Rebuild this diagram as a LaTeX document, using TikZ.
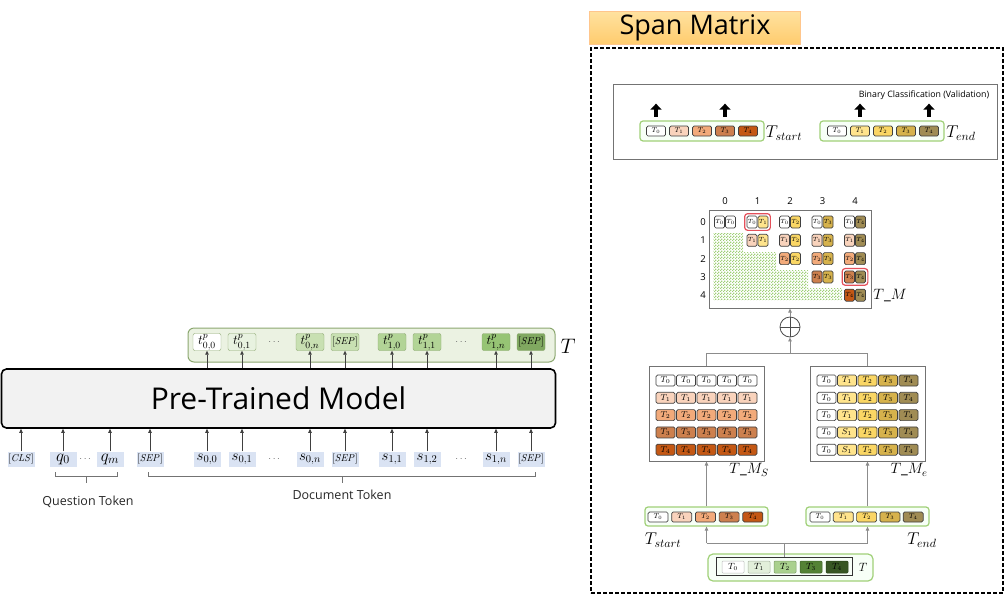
\documentclass[tikz,border=0pt]{standalone}
\usepackage{fix-cm}
\usepackage{amsmath}
\usepackage{amssymb}
\usepackage[no-math]{fontspec}
\setmainfont{Open Sans}
\usepackage{xcolor}
\usepackage{tikz}
\usetikzlibrary{arrows, arrows.meta, positioning, shapes, fit, patterns}

\definecolor{inblue}{RGB}{218,227,243}
\definecolor{barfill}{RGB}{235,242,226}
\definecolor{barline}{RGB}{140,168,112}
\definecolor{limeline}{RGB}{160,208,120}
\definecolor{hlred}{RGB}{228,80,90}
\definecolor{og0}{RGB}{255,255,255}
\definecolor{og1}{RGB}{232,242,224}
\definecolor{og2}{RGB}{200,224,178}
\definecolor{og3}{RGB}{178,212,150}
\definecolor{og4}{RGB}{150,196,116}
\definecolor{og5}{RGB}{128,168,96}
\definecolor{sc0}{RGB}{255,255,255}
\definecolor{sc1}{RGB}{249,211,188}
\definecolor{sc2}{RGB}{242,170,122}
\definecolor{sc3}{RGB}{205,128,78}
\definecolor{sc4}{RGB}{196,88,20}
\definecolor{ec0}{RGB}{255,255,255}
\definecolor{ec1}{RGB}{255,228,140}
\definecolor{ec2}{RGB}{250,214,100}
\definecolor{ec3}{RGB}{214,178,76}
\definecolor{ec4}{RGB}{160,140,84}
\definecolor{tc0}{RGB}{255,255,255}
\definecolor{tc1}{RGB}{226,239,218}
\definecolor{tc2}{RGB}{169,209,142}
\definecolor{tc3}{RGB}{84,130,53}
\definecolor{tc4}{RGB}{55,86,35}

\pgfdeclarepatternformonly{finecheck}{\pgfpointorigin}{\pgfqpoint{3pt}{3pt}}{\pgfqpoint{3pt}{3pt}}{%
  \pgfpathrectangle{\pgfpointorigin}{\pgfqpoint{1.5pt}{1.5pt}}%
  \pgfpathrectangle{\pgfqpoint{1.5pt}{1.5pt}}{\pgfqpoint{1.5pt}{1.5pt}}%
  \pgfusepath{fill}}

\begin{document}
\begin{tikzpicture}[x=1pt, y=-1pt,
    arr/.style={-{Triangle[length=4pt,width=3.5pt]}, line width=0.6pt, black!75},
    garr/.style={-{Triangle[length=4pt,width=3.5pt]}, line width=0.8pt, black!45},
    gline/.style={line width=0.8pt, black!45},
    barr/.style={-{Triangle[length=6pt,width=11pt]}, line width=4pt},
    brk/.style={line width=0.7pt, black!55},
    intok/.style={fill=inblue, minimum width=27pt, minimum height=15pt, inner sep=0pt},
    outtok/.style={draw=barline, rounded corners=2pt, minimum width=28pt, minimum height=17pt, inner sep=0pt, font=\fontsize{13.5}{13.5}\selectfont},
    gbar/.style={draw=limeline, fill=green!3, rounded corners=3pt, line width=1.2pt, inner sep=0pt},
    sbox/.style={draw=black!75, rounded corners=1.5pt, line width=0.7pt, inner sep=0pt},
    pane/.style={draw=black!55, line width=1pt, inner sep=0pt},
    lbl/.style={font=\fontsize{12.5}{14}\selectfont, text=black!85}]

\useasboundingbox (0,0) rectangle (1006,595);

% encoder side
\node[draw, rounded corners=5pt, line width=1.6pt, fill=black!5, minimum width=554pt, minimum height=59pt, font=\fontsize{30}{36}\selectfont] (model) at (278.5,398.5) {Pre-Trained Model};
\node[draw=barline, fill=barfill, rounded corners=6pt, line width=1pt, minimum width=367pt, minimum height=34pt] (tbar) at (371.5,345) {};
\node[font=\fontsize{21}{21}\selectfont] (tlab) at (568,346) {$T$};

\foreach \x/\nm/\tx in {21/cls/CLS, 150/sepa/SEP, 345/sepb/SEP, 531/sepc/SEP}
  \node[intok, font=\fontsize{10}{10}\selectfont] (\nm) at (\x,459) {$[\mathit{\tx}]$};
\foreach \x/\nm/\tx in {63/q0/q_0, 110/qm/q_m}
  \node[intok, font=\fontsize{17}{17}\selectfont] (\nm) at (\x,459) {$\tx$};
\foreach \x/\nm/\tx in {207/s00/{s_{0,0}}, 242/s01/{s_{0,1}}, 310/s0n/{s_{0,n}}, 392/s11/{s_{1,1}}, 427/s12/{s_{1,2}}, 496/s1n/{s_{1,n}}}
  \node[intok, font=\fontsize{15}{15}\selectfont] (\nm) at (\x,459) {$\tx$};
\foreach \x/\nm in {86/da, 275/db, 462/dc}
  \node[text=black!60] (\nm) at (\x,459) {$\cdots$};
\foreach \nm in {cls,q0,qm,sepa,s00,s01,s0n,sepb,s11,s12,s1n,sepc}
  \draw[arr] (\nm.north) -- (\nm.north |- model.south);

\foreach \x/\nm/\c/\tx in {207/o00/og0/{$t^{p}_{0,0}$}, 242/o01/og1/{$t^{p}_{0,1}$}, 310/o0n/og2/{$t^{p}_{0,n}$}, 345/osa/og2/{\fontsize{10}{10}\selectfont$[\mathit{SEP}]$}, 392/o10/og3/{$t^{p}_{1,0}$}, 427/o11/og3/{$t^{p}_{1,1}$}, 496/o1n/og4/{$t^{p}_{1,n}$}, 531/osb/og5/{\fontsize{10}{10}\selectfont$[\mathit{SEP}]$}}
  \node[outtok, fill=\c] (\nm) at (\x,342) {\tx};
\foreach \x/\nm in {275/ea, 462/eb}
  \node[text=black!60] (\nm) at (\x,342) {$\cdots$};
\foreach \nm in {o00,o01,o0n,osa,o10,o11,o1n,osb}
  \draw[arr] (\nm.south |- model.north) -- (\nm.south);

\draw[brk] (55,472) -- (55,476) -- (117,476) -- (117,472) (86,476) -- (86,483);
\draw[brk] (148,472) -- (148,476) -- (535,476) -- (535,472) (342,476) -- (342,483);
\node[lbl] (qlab) at (88,502) {Question Token};
\node[lbl] (dlab) at (342,495) {Document Token};

% span matrix side
\node[draw=orange!45, top color={rgb,255:red,255;green,226;blue,160}, bottom color={rgb,255:red,255;green,204;blue,110}, minimum width=211pt, minimum height=33pt, inner sep=0pt, font=\fontsize{27}{30}\selectfont] (title) at (695,27.5) {Span Matrix};
\node[draw, dash pattern=on 4pt off 2pt, line width=1.2pt, minimum width=412pt, minimum height=545pt] (frame) at (797,320.5) {};

\node[pane, minimum width=384pt, minimum height=75pt] (valbox) at (805,121.5) {};
\node[font=\fontsize{8.8}{9}\selectfont] (valtxt) at (924,95) {Binary Classification (Validation)};
\node[gbar, minimum width=124pt, minimum height=20pt] (vsbar) at (702,131) {};
\node[gbar, minimum width=124pt, minimum height=20pt] (vebar) at (882,131) {};
\foreach \k in {0,...,4} {
  \node[sbox, fill=sc\k, minimum width=19pt, minimum height=10pt, font=\fontsize{7}{7}\selectfont] (vs\k) at (656+23*\k,131) {$T_{\k}$};
  \node[sbox, fill=ec\k, minimum width=19pt, minimum height=10pt, font=\fontsize{7}{7}\selectfont] (ve\k) at (837+23*\k,131) {$T_{\k}$};
}
\node[font=\fontsize{17}{17}\selectfont] (vslab) at (784,133) {$T_{start}$};
\node[font=\fontsize{17}{17}\selectfont] (velab) at (961,133) {$T_{end}$};
\foreach \nm in {vs0,vs3,ve1,ve4}
  \draw[barr] ([yshift=9pt]\nm.north) -- ([yshift=22pt]\nm.north);

\node[pane, minimum width=162pt, minimum height=98pt] (mat) at (790,259) {};
\fill[pattern=finecheck, pattern color=limeline] (713,233) -| (743,252) -| (776,270) -| (808,288) -| (842,300) -- (713,300) -- cycle;
\foreach \j in {0,...,4} {
  \node[font=\fontsize{9.5}{9.5}\selectfont] (col\j) at (725+32.5*\j,201) {\j};
  \node[font=\fontsize{9.5}{9.5}\selectfont] (row\j) at (703,222+18.3*\j) {\j};
}
\foreach \i in {0,...,4}
  \foreach \j in {\i,...,4} {
    \node[sbox, fill=sc\i, minimum width=10pt, minimum height=12pt, font=\fontsize{6}{6}\selectfont] (ma\i\j) at (719.5+32.5*\j,222+18.3*\i) {$T_{\i}$};
    \node[sbox, fill=ec\j, minimum width=10pt, minimum height=12pt, font=\fontsize{6}{6}\selectfont] (mb\i\j) at (730.5+32.5*\j,222+18.3*\i) {$T_{\j}$};
  }
\node[draw=hlred, rounded corners=3pt, line width=1.2pt, fit=(ma01)(mb01), inner sep=2pt] (hla) {};
\node[draw=hlred, rounded corners=3pt, line width=1.2pt, fit=(ma34)(mb34), inner sep=2pt] (hlb) {};
\node[font=\fontsize{15}{15}\selectfont] (tmlab) at (890,296) {$T\_M$};

\node[draw=black!70, circle, minimum size=20pt, inner sep=0pt, line width=0.8pt] (oplus) at (790,327) {};
\draw[black!70, line width=0.8pt] (oplus.north) -- (oplus.south) (oplus.west) -- (oplus.east);
\draw[garr] (oplus.north) -- (mat.south);
\coordinate (join) at (790,353);
\draw[garr] (join) -- (oplus.south);

\node[pane, minimum width=115pt, minimum height=95pt] (tms) at (706.5,413.5) {};
\node[pane, minimum width=115pt, minimum height=95pt] (tme) at (867.5,413.5) {};
\draw[gline] (tms.north) -- (tms.north |- join) -- (tme.north |- join) -- (tme.north);
\foreach \r in {0,...,4}
  \foreach \k in {0,...,4} {
    \def\elab{T_{\k}}
    \ifnum\k=1 \ifnum\r>2 \def\elab{S_{1}}\fi\fi
    \node[sbox, fill=sc\r, minimum width=19pt, minimum height=11pt, font=\fontsize{8.5}{8.5}\selectfont] (ms\r\k) at (665.5+20.5*\k,380.5+17.3*\r) {$T_{\r}$};
    \node[sbox, fill=ec\k, minimum width=19pt, minimum height=11pt, font=\fontsize{8.5}{8.5}\selectfont] (me\r\k) at (826.5+20.5*\k,380.5+17.3*\r) {$\elab$};
  }
\node[font=\fontsize{15}{15}\selectfont] (mslab) at (749,470) {$T\_M_S$};
\node[font=\fontsize{15}{15}\selectfont] (melab) at (909,470) {$T\_M_e$};

\node[gbar, minimum width=123pt, minimum height=19pt] (sbar) at (706.5,516.5) {};
\node[gbar, minimum width=123pt, minimum height=19pt] (ebar) at (867.5,516.5) {};
\foreach \k in {0,...,4} {
  \node[sbox, fill=sc\k, minimum width=20pt, minimum height=10pt, font=\fontsize{7}{7}\selectfont] (sb\k) at (658+23.7*\k,517) {$T_{\k}$};
  \node[sbox, fill=ec\k, minimum width=20pt, minimum height=10pt, font=\fontsize{7}{7}\selectfont] (eb\k) at (820+23.3*\k,517) {$T_{\k}$};
}
\node[font=\fontsize{17}{17}\selectfont] (sblab) at (663,540) {$T_{start}$};
\node[font=\fontsize{17}{17}\selectfont] (eblab) at (922,540) {$T_{end}$};
\draw[garr] (sbar.north) -- (tms.south);
\draw[garr] (ebar.north) -- (tme.south);

\node[gbar, minimum width=165pt, minimum height=27pt, rounded corners=5pt] (tout) at (790.5,567.5) {};
\node[draw=black!80, line width=1pt, minimum width=136pt, minimum height=18pt, inner sep=0pt] (tin) at (784,566) {};
\foreach \k in {0,...,4}
  \node[draw=tc\k!75!black, fill=tc\k, rounded corners=1pt, line width=0.5pt, minimum width=22pt, minimum height=12pt, inner sep=0pt, font=\fontsize{9}{9}\selectfont] (tb\k) at (733+26*\k,567) {$T_{\k}$};
\node[font=\fontsize{12}{12}\selectfont] (tblab) at (863,567) {$T$};
\coordinate (split) at (784,543);
\draw[gline] (tin.north) -- (split);
\draw[gline] (sbar.south |- split) -- (ebar.south |- split);
\draw[garr] (sbar.south |- split) -- (sbar.south);
\draw[garr] (ebar.south |- split) -- (ebar.south);
\end{tikzpicture}
\end{document}
